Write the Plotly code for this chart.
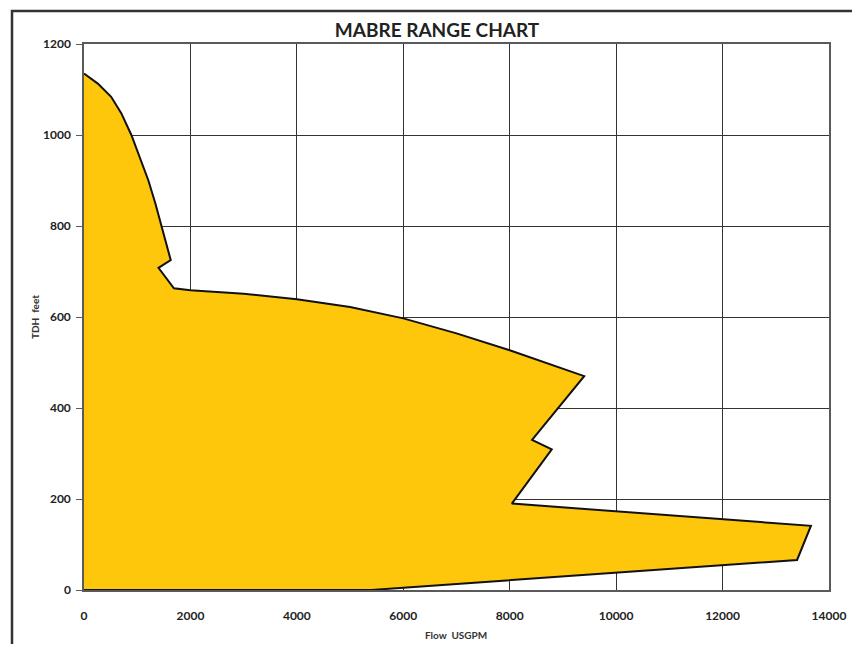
import plotly.graph_objects as go

# Outline of the operating range (Flow USGPM, TDH feet)
flow = [0, 260, 510, 700, 890, 1050, 1210, 1340, 1460, 1560, 1630, 1400, 1690,
        2000, 3000, 4000, 5000, 6000, 7000, 8000, 9400, 8420, 8790, 8040,
        13660, 13400, 5400, 0]
tdh = [1135, 1113, 1084, 1048, 1000, 952, 900, 850, 800, 760, 725, 708, 663,
       659, 651, 639, 622, 597, 564, 527, 470, 330, 309, 190,
       141, 66, 0, 0]

x_ticks = [0, 2000, 4000, 6000, 8000, 10000, 12000, 14000]
y_ticks = [0, 200, 400, 600, 800, 1000, 1200]

FONT = "Lato"
OFF = 8  # page body margin offset
fig = go.Figure()
fig.add_trace(go.Scatter(
    x=flow, y=tdh, mode="lines", fill="toself",
    fillcolor="#FEC70C", line=dict(color="#111111", width=2),
    hoverinfo="x+y", showlegend=False))

W, H = 860 - 2 * OFF, 652 - 2 * OFF
# desired screen positions of plot area
SL, SR, ST, SB = 84, 829, 44, 590
L = SL - OFF
T = ST - OFF
pw = SR - SL
ph = SB - ST
R = W - L - pw
B = H - T - ph

def px(xs):
    return (xs - SL) / pw

def py(ys):
    return (SB - ys) / ph

fig.update_layout(
    width=W, height=H,
    margin=dict(l=L, r=R, t=T, b=B, autoexpand=False),
    paper_bgcolor="white", plot_bgcolor="white",
    title=dict(text="<b>MABRE RANGE CHART</b>", x=px(437), xref="paper",
               xanchor="center", y=1 - (30 - OFF) / H, yref="container",
               yanchor="middle",
               font=dict(family=FONT, size=19, color="#222222")),
    font=dict(family=FONT, color="#222222"),
    xaxis=dict(range=[0, 14000], tickvals=x_ticks,
               ticktext=[str(v) for v in x_ticks], automargin=False,
               showgrid=True, gridcolor="#333333", gridwidth=1,
               showline=True, linecolor="#5a5a5a", linewidth=1.5, mirror=True,
               ticks="", ticklabelstandoff=14, zeroline=False,
               tickfont=dict(family=FONT, size=12, color="#222222", weight="bold")),
    yaxis=dict(range=[0, 1200], tickvals=y_ticks,
               ticktext=[str(v) for v in y_ticks], automargin=False,
               showgrid=True, gridcolor="#333333", gridwidth=1,
               showline=True, linecolor="#5a5a5a", linewidth=1.5, mirror=True,
               ticks="outside", ticklen=6, tickcolor="#5a5a5a",
               ticklabelstandoff=3, zeroline=False,
               tickfont=dict(family=FONT, size=12, color="#222222", weight="bold")),
)

fig.add_annotation(text="<b>Flow  USGPM</b>", xref="paper", yref="paper",
                   x=px(456), y=py(635), xanchor="center", yanchor="middle",
                   showarrow=False,
                   font=dict(family=FONT, size=10, color="#333333"))
fig.add_annotation(text="<b>TDH  feet</b>", xref="paper", yref="paper",
                   x=px(35), y=py(317), xanchor="center", yanchor="middle",
                   textangle=-90, showarrow=False,
                   font=dict(family=FONT, size=10, color="#333333"))

# chart-area border
fig.add_shape(type="rect", xref="paper", yref="paper",
              x0=px(12), x1=px(880), y0=py(670), y1=py(11),
              line=dict(color="#333333", width=2.5), fillcolor="rgba(0,0,0,0)",
              layer="below")

fig.write_html("out.html")
